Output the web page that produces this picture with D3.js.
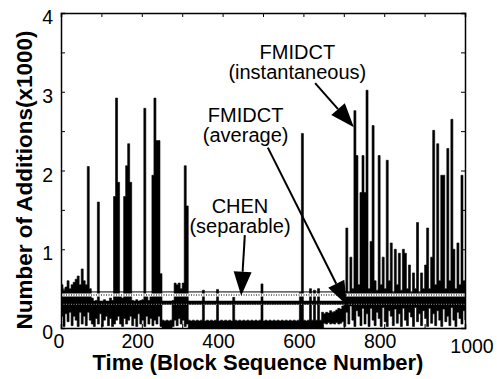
<!DOCTYPE html>
<html><head><meta charset="utf-8">
<script src="https://cdn.jsdelivr.net/npm/d3@7"></script>
<style>body{margin:0;background:#fff} svg{display:block}</style>
</head><body><svg id="c" width="497" height="379"></svg>
<script>
// ---- data (thousands of additions) ----
// The instantaneous series is dense (1000 blocks), so it is kept as the
// highest and lowest value read in each 5-block window, blocks 0..1000.
const blockStep = 5;
const instantaneousMax = [
  0.55,0.48,0.52,0.60,0.50,0.55,0.58,0.62,0.66,0.55,   // 0-45
  0.75,0.60,0.55,2.05,0.50,0.38,0.30,0.35,1.60,0.32,   // 50-95
  0.30,0.36,0.33,0.30,0.38,0.35,1.67,2.92,1.85,0.40,   // 100-145
  0.38,1.67,2.06,2.34,1.85,0.35,0.33,0.36,0.30,0.35,   // 150-195
  0.36,2.79,0.40,0.35,0.40,1.94,2.92,2.38,2.38,0.69,   // 200-245
  0.10,0.09,0.10,0.09,0.10,0.35,0.57,0.55,0.57,0.50,   // 250-295
  0.57,2.06,1.55,0.10,0.09,0.10,0.09,0.10,0.09,0.10,   // 300-345
  0.48,0.09,0.10,0.09,0.10,0.09,0.10,0.49,0.09,0.10,   // 350-395
  0.09,0.10,0.09,0.10,0.09,0.39,0.10,0.09,0.10,0.09,   // 400-445
  0.10,0.09,0.10,0.09,0.10,0.09,0.10,0.09,0.10,0.56,   // 450-495
  0.09,0.10,0.09,0.10,0.09,0.10,0.09,0.10,0.09,0.10,   // 500-545
  0.09,0.10,0.09,0.10,0.09,0.10,0.09,0.10,0.45,2.47,   // 550-595
  0.10,0.09,0.10,0.50,0.10,0.48,0.10,0.50,0.10,0.20,   // 600-645
  0.18,0.20,0.19,0.22,0.20,0.21,0.23,0.25,0.24,0.28,   // 650-695
  0.30,1.27,0.45,0.90,0.50,2.76,2.19,0.55,1.72,2.19,   // 700-745
  1.72,3.02,0.50,1.10,2.57,0.60,0.48,2.19,0.55,0.90,   // 750-795
  0.50,2.13,0.60,1.08,0.45,1.00,0.55,0.95,0.48,1.00,   // 800-845
  0.95,0.50,0.80,0.45,0.70,0.50,1.34,0.45,0.70,0.50,   // 850-895
  0.80,1.27,0.50,0.90,2.51,0.55,2.34,0.60,1.94,1.94,   // 900-945
  0.50,2.28,0.60,2.65,1.00,0.50,1.08,0.55,1.94,0.60,   // 950-995
  0.60                                                 // 1000
];
const instantaneousMin = [
  0.15,0.02,0.18,0.08,0.20,0.03,0.15,0.10,0.02,0.20,   // 0-45
  0.05,0.15,0.03,0.20,0.10,0.05,0.02,0.12,0.05,0.18,   // 50-95
  0.02,0.10,0.15,0.03,0.12,0.02,0.05,0.10,0.15,0.05,   // 100-145
  0.02,0.12,0.05,0.10,0.15,0.03,0.12,0.02,0.18,0.05,   // 150-195
  0.10,0.02,0.15,0.05,0.12,0.03,0.10,0.05,0.15,0.02,   // 200-245
  0.00,0.00,0.00,0.00,0.00,0.02,0.10,0.03,0.12,0.05,   // 250-295
  0.10,0.02,0.05,0.00,0.00,0.00,0.00,0.00,0.00,0.00,   // 300-345
  0.00,0.00,0.00,0.00,0.00,0.00,0.00,0.00,0.00,0.00,   // 350-395
  0.00,0.00,0.00,0.00,0.00,0.00,0.00,0.00,0.00,0.00,   // 400-445
  0.00,0.00,0.00,0.00,0.00,0.00,0.00,0.00,0.00,0.00,   // 450-495
  0.00,0.00,0.00,0.00,0.00,0.00,0.00,0.00,0.00,0.00,   // 500-545
  0.00,0.00,0.00,0.00,0.00,0.00,0.00,0.00,0.00,0.00,   // 550-595
  0.00,0.00,0.00,0.00,0.00,0.00,0.00,0.00,0.00,0.00,   // 600-645
  0.06,0.05,0.07,0.05,0.06,0.05,0.07,0.05,0.06,0.08,   // 650-695
  0.02,0.20,0.05,0.28,0.10,0.02,0.22,0.15,0.03,0.25,   // 700-745
  0.05,0.18,0.02,0.25,0.10,0.03,0.20,0.12,0.02,0.26,   // 750-795
  0.08,0.02,0.22,0.15,0.03,0.24,0.06,0.18,0.02,0.25,   // 800-845
  0.10,0.03,0.20,0.14,0.02,0.26,0.08,0.18,0.03,0.22,   // 850-895
  0.12,0.02,0.25,0.06,0.18,0.03,0.22,0.10,0.02,0.24,   // 900-945
  0.08,0.15,0.03,0.26,0.10,0.02,0.20,0.12,0.05,0.22,   // 950-995
  0.10                                                 // 1000
];
const chenSeparable = 0.42;
const fmidctAverage = 0.32;
const xTickLabels = [0, 200, 400, 600, 800, 1000];
const yTickLabels = [0, 1, 2, 3, 4];
const xMinorTicks = [0,100,200,300,400,500,600,700,800,900,1000];
const yMinorTicks = [0,0.5,1,1.5,2,2.5,3,3.5,4];
const annotations = [
  {lines:["FMIDCT","(instantaneous)"], at:[585, 3.42], from:[629, 3.11], to:[725, 2.55]},
  {lines:["FMIDCT","(average)"],       at:[457, 2.62], from:[512, 2.29], to:[708, 0.29]},
  {lines:["CHEN","(separable)"],       at:[443, 1.455], from:[455, 1.18], to:[446, 0.41]}
];

// ---- chart ----
const svg = d3.select("#c");
const font = "'Liberation Sans', Arial, Helvetica, sans-serif";
const x = d3.scaleLinear().domain([0, 1000]).range([61, 465]);
const y = d3.scaleLinear().domain([0, 4]).range([328, 13]);

svg.append("clipPath").attr("id", "plotclip").append("rect")
  .attr("x", x(0)).attr("y", y(4)).attr("width", x(1000) - x(0)).attr("height", y(0) - y(4));
const plot = svg.append("g").attr("clip-path", "url(#plotclip)");

const series = instantaneousMax.map((hi, i) => ({b: i * blockStep, hi, lo: instantaneousMin[i]}));
const area = d3.area().curve(d3.curveStepAfter)
  .x(d => x(d.b)).y0(d => y(d.lo)).y1(d => y(d.hi));
plot.append("path").datum(series)
  .attr("d", area).attr("fill", "#000").attr("stroke", "#000").attr("stroke-width", 0.6);

// horizontal reference lines
const hline = (v, off, color, w, dash) => plot.append("line")
  .attr("x1", x(0)).attr("x2", x(1000))
  .attr("y1", y(v) + off).attr("y2", y(v) + off)
  .attr("stroke", color).attr("stroke-width", w).attr("stroke-dasharray", dash || null);
hline(fmidctAverage, 0, "#000", 4);
hline(fmidctAverage, 1.5, "#999", 1, "1,1.5");
hline(chenSeparable, -3, "#000", 1);
hline(chenSeparable, 0, "#fff", 3);
hline(chenSeparable, 0, "#777", 2, "1,1.5");

// frame + ticks
const axB = d3.axisBottom(x).tickValues(xMinorTicks).tickSize(-4).tickFormat("");
const axT = d3.axisTop(x).tickValues(xMinorTicks).tickSize(-4).tickFormat("");
const axL = d3.axisLeft(y).tickValues(yMinorTicks).tickSize(-4).tickFormat("");
const axR = d3.axisRight(y).tickValues(yMinorTicks).tickSize(-4).tickFormat("");
[[axB, `translate(0,${y(0)})`], [axT, `translate(0,${y(4)})`],
 [axL, `translate(${x(0)},0)`], [axR, `translate(${x(1000)},0)`]].forEach(([a, t]) => {
  const g = svg.append("g").attr("transform", t).call(a);
  g.select(".domain").attr("stroke", "#000").attr("stroke-width", 1.5);
  g.selectAll(".tick line").attr("stroke", "#000").attr("stroke-width", 1);
});

// tick labels
svg.append("g").selectAll("text").data(xTickLabels).join("text")
  .attr("x", d => x(d) + (d === 1000 ? 7 : d === 0 ? -2 : -4))
  .attr("y", d => y(0) + (d === 1000 ? 25 : 20))
  .attr("text-anchor", "middle").attr("font-family", font).attr("font-size", 19.5)
  .text(d => d);
svg.append("g").selectAll("text").data(yTickLabels).join("text")
  .attr("x", x(0) - 8).attr("y", d => y(d) + 11)
  .attr("text-anchor", "end").attr("font-family", font).attr("font-size", 19.5)
  .text(d => d);

// axis titles
svg.append("text").attr("x", (x(0) + x(1000)) / 2 - 5).attr("y", 370)
  .attr("text-anchor", "middle").attr("font-family", font).attr("font-weight", "bold")
  .attr("font-size", 22).text("Time (Block Sequence Number)");
svg.append("text").attr("transform", "translate(32,180) rotate(-90)")
  .attr("text-anchor", "middle").attr("font-family", font).attr("font-weight", "bold")
  .attr("font-size", 22.5).text("Number of Additions(x1000)");

// annotations
annotations.forEach(a => {
  a.lines.forEach((s, i) => {
    svg.append("text").attr("text-anchor", "middle")
      .attr("font-family", font).attr("font-size", 20)
      .attr("x", x(a.at[0])).attr("y", y(a.at[1]) + i * 20).text(s);
  });
  const x1 = x(a.from[0]), y1 = y(a.from[1]), x2 = x(a.to[0]), y2 = y(a.to[1]);
  const ang = Math.atan2(y2 - y1, x2 - x1);
  const L = 24, W = 9;
  const bx = x2 - L * Math.cos(ang), by = y2 - L * Math.sin(ang);
  svg.append("line").attr("x1", x1).attr("y1", y1).attr("x2", bx).attr("y2", by)
    .attr("stroke", "#000").attr("stroke-width", 2);
  const px = -Math.sin(ang) * W, py = Math.cos(ang) * W;
  svg.append("polygon")
    .attr("points", [[x2, y2], [bx + px, by + py], [bx - px, by - py]].map(p => p.join(",")).join(" "))
    .attr("fill", "#000");
});
</script>
</body></html>
